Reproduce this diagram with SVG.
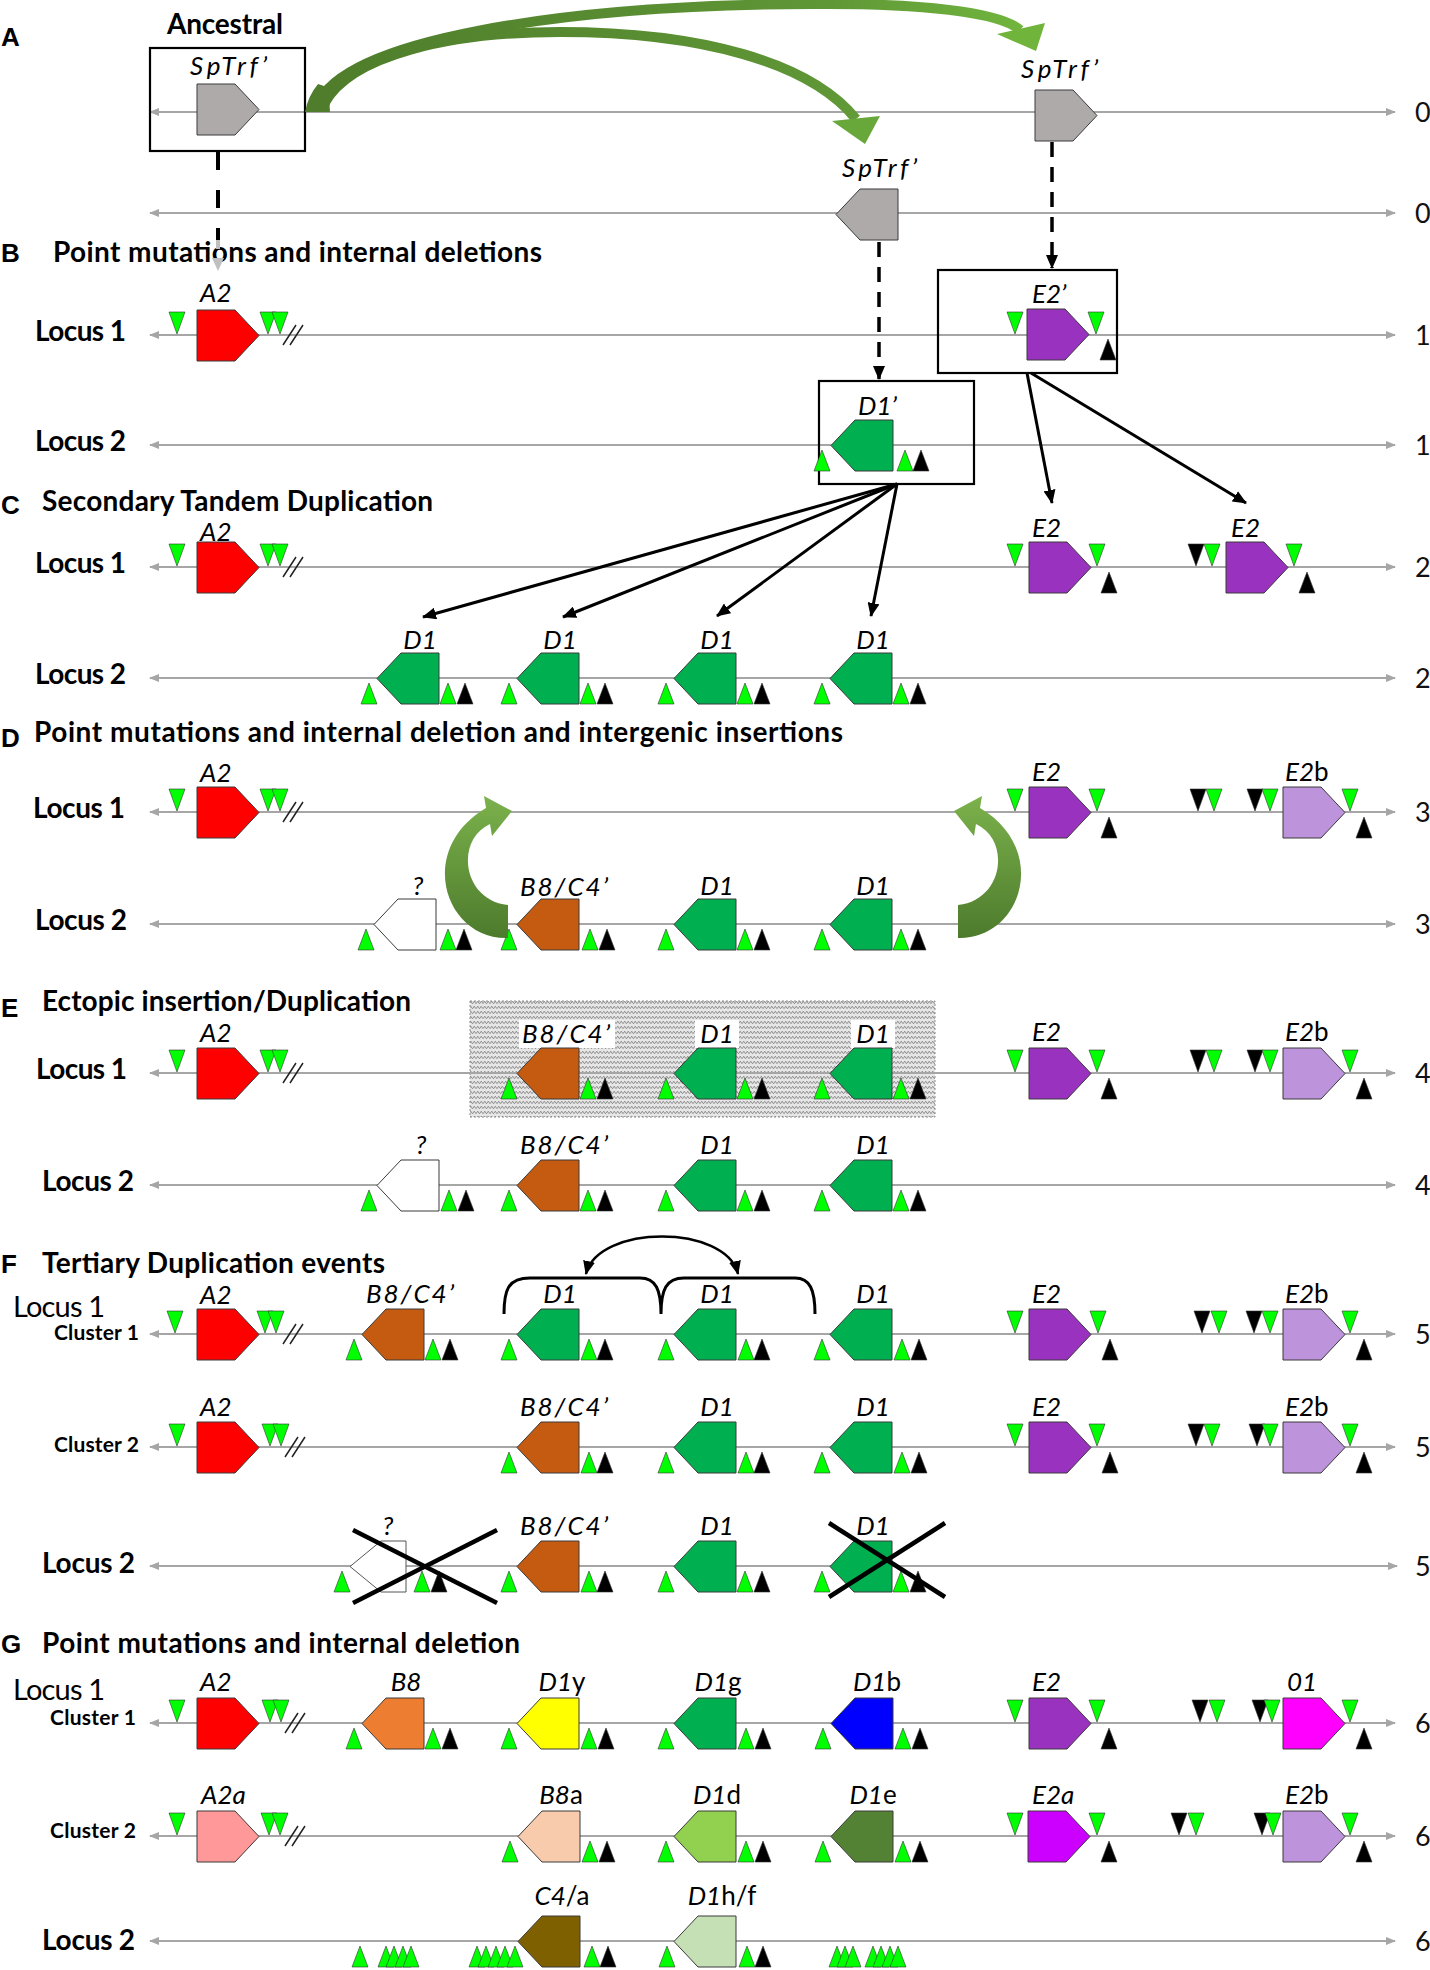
<svg xmlns="http://www.w3.org/2000/svg" width="1430" height="1970" viewBox="0 0 1430 1970">
<defs>
<style>
.ln{stroke:#a6a6a6;stroke-width:2.2;marker-start:url(#lg);marker-end:url(#lg)}
.num{font-family:Lato,"Open Sans",sans-serif;font-size:27px;fill:#111}
.lt{font-family:"Liberation Sans",Arial,sans-serif;font-weight:bold;font-size:26px}
.ttl{font-family:Lato,"Open Sans",sans-serif;font-weight:bold;font-size:28px}
.loc{font-family:Lato,"Open Sans",sans-serif;font-weight:bold;font-size:28px}
.locr{font-family:Lato,"Open Sans",sans-serif;font-size:29px}
.cl{font-family:Lato,"Open Sans",sans-serif;font-weight:bold;font-size:21px}
.lab{font-family:Lato,"Open Sans",sans-serif;font-style:italic;font-size:26px}
.m{text-anchor:middle}
.up{font-style:normal}
.g{fill:#00ff00}
.k{fill:#000}
.box{fill:none;stroke:#000;stroke-width:2.2}
.sl{stroke:#222;stroke-width:1.5;fill:none}
.con{stroke:#000;stroke-width:3;fill:none}
.dsh{stroke:#000;stroke-width:3.5;fill:none;stroke-dasharray:15 10}
.xm{stroke:#000;stroke-width:4.5}
</style>
<marker id="lg" viewBox="0 0 10 8" refX="9" refY="4" markerWidth="10" markerHeight="8" markerUnits="userSpaceOnUse" orient="auto-start-reverse"><path d="M0,0 L10,4 L0,8 z" fill="#a6a6a6"/></marker>
<marker id="ah" viewBox="0 0 14 12" refX="13" refY="6" markerWidth="14" markerHeight="12" markerUnits="userSpaceOnUse" orient="auto-start-reverse"><path d="M0,0 L14,6 L0,12 z" fill="#000"/></marker>
<polygon id="gr" points="0,0 38,0 62,25.5 38,51 0,51" stroke="#3a3a3a" stroke-width="1"/>
<polygon id="gl" points="0,25.5 24,0 62,0 62,51 24,51" stroke="#3a3a3a" stroke-width="1"/>
<polygon id="gls" points="0,25.5 31,0 56,0 56,51 31,51" stroke="#555" stroke-width="1"/>
<polygon id="tdn" points="0,0 16,0 8,22" stroke="#333" stroke-width="0.6"/>
<polygon id="tup" points="8,0 16,21 0,21" stroke="#333" stroke-width="0.6"/>
<pattern id="wave" width="7" height="5" patternUnits="userSpaceOnUse"><rect width="7" height="5" fill="#e6e6e6"/><path d="M0,3.8 L1.75,1.2 L3.5,3.8 L5.25,1.2 L7,3.8" fill="none" stroke="#858585" stroke-width="0.9"/></pattern>
<linearGradient id="gA" gradientUnits="userSpaceOnUse" x1="320" y1="0" x2="1040" y2="0"><stop offset="0" stop-color="#4f7d2b"/><stop offset="0.7" stop-color="#5f9636"/><stop offset="1" stop-color="#72b83e"/></linearGradient>
<linearGradient id="gD" gradientUnits="userSpaceOnUse" x1="0" y1="940" x2="0" y2="795"><stop offset="0" stop-color="#4c7a2c"/><stop offset="1" stop-color="#7cb24c"/></linearGradient>
</defs>
<rect width="1430" height="1970" fill="#fff"/>

<g id="panel-letters">
<text class="lt" x="1" y="46">A</text>
<text class="lt" x="1" y="262">B</text>
<text class="lt" x="1" y="514">C</text>
<text class="lt" x="1" y="747">D</text>
<text class="lt" x="1" y="1017">E</text>
<text class="lt" x="1" y="1273">F</text>
<text class="lt" x="1" y="1653">G</text>
</g>
<g id="titles">
<text class="ttl" x="167" y="34" textLength="116">Ancestral</text>
<text class="ttl" x="53" y="262" textLength="489">Point mutations and internal deletions</text>
<text class="ttl" x="42" y="511" textLength="391">Secondary Tandem Duplication</text>
<text class="ttl" x="34" y="742" textLength="809">Point mutations and internal deletion and intergenic insertions</text>
<text class="ttl" x="42" y="1011" textLength="369">Ectopic insertion/Duplication</text>
<text class="ttl" x="42" y="1273" textLength="343">Tertiary Duplication events</text>
<text class="ttl" x="42" y="1653" textLength="478">Point mutations and internal deletion</text>
</g>
<g id="row-labels">
<text class="loc" x="35" y="341" textLength="91">Locus 1</text>
<text class="loc" x="35" y="451" textLength="91">Locus 2</text>
<text class="loc" x="35" y="573" textLength="91">Locus 1</text>
<text class="loc" x="35" y="684" textLength="91">Locus 2</text>
<text class="loc" x="33" y="818" textLength="92">Locus 1</text>
<text class="loc" x="35" y="930" textLength="92">Locus 2</text>
<text class="loc" x="36" y="1079" textLength="91">Locus 1</text>
<text class="loc" x="42" y="1191" textLength="92">Locus 2</text>
<text class="locr" x="13" y="1317" textLength="92">Locus 1</text>
<text class="cl" x="54" y="1340" textLength="85">Cluster 1</text>
<text class="cl" x="54" y="1452" textLength="85">Cluster 2</text>
<text class="loc" x="42" y="1573" textLength="93">Locus 2</text>
<text class="locr" x="13" y="1700" textLength="92">Locus 1</text>
<text class="cl" x="50" y="1725" textLength="86">Cluster 1</text>
<text class="cl" x="50" y="1838" textLength="86">Cluster 2</text>
<text class="loc" x="42" y="1950" textLength="93">Locus 2</text>
</g>
<g id="row-numbers">
<text class="num" x="1415" y="122">0</text>
<text class="num" x="1415" y="223">0</text>
<text class="num" x="1415" y="345">1</text>
<text class="num" x="1415" y="455">1</text>
<text class="num" x="1415" y="577">2</text>
<text class="num" x="1415" y="688">2</text>
<text class="num" x="1415" y="822">3</text>
<text class="num" x="1415" y="934">3</text>
<text class="num" x="1415" y="1083">4</text>
<text class="num" x="1415" y="1195">4</text>
<text class="num" x="1415" y="1344">5</text>
<text class="num" x="1415" y="1457">5</text>
<text class="num" x="1415" y="1576">5</text>
<text class="num" x="1415" y="1733">6</text>
<text class="num" x="1415" y="1846">6</text>
<text class="num" x="1415" y="1951">6</text>
</g>

<g id="hatch-box">
<rect x="470" y="1001" width="465" height="116" fill="url(#wave)" stroke="#8c8c8c" stroke-width="1" stroke-dasharray="2 2"/>
<rect x="519" y="1020" width="96" height="28" fill="#fff"/>
<rect x="695" y="1020" width="44" height="28" fill="#fff"/>
<rect x="851" y="1020" width="44" height="28" fill="#fff"/>
</g>

<g id="chromosome-lines">
<line class="ln" x1="150" y1="112" x2="1395" y2="112"/>
<line class="ln" x1="150" y1="213" x2="1395" y2="213"/>
<line class="ln" x1="150" y1="335" x2="1395" y2="335"/>
<line class="ln" x1="150" y1="445" x2="1395" y2="445"/>
<line class="ln" x1="150" y1="567" x2="1395" y2="567"/>
<line class="ln" x1="150" y1="678" x2="1395" y2="678"/>
<line class="ln" x1="150" y1="812" x2="1395" y2="812"/>
<line class="ln" x1="150" y1="924" x2="1395" y2="924"/>
<line class="ln" x1="150" y1="1073" x2="1395" y2="1073"/>
<line class="ln" x1="150" y1="1185" x2="1395" y2="1185"/>
<line class="ln" x1="150" y1="1334" x2="1395" y2="1334"/>
<line class="ln" x1="150" y1="1447" x2="1395" y2="1447"/>
<line class="ln" x1="150" y1="1566" x2="1397" y2="1566"/>
<line class="ln" x1="150" y1="1723" x2="1395" y2="1723"/>
<line class="ln" x1="150" y1="1836" x2="1395" y2="1836"/>
<line class="ln" x1="150" y1="1941" x2="1395" y2="1941"/>
</g>

<!-- A -->
<g id="ancestral">
<rect class="box" x="150" y="48" width="155" height="103"/>
<use href="#gr" x="197" y="84" fill="#aeaaaa"/>
<text class="lab" x="190" y="75" textLength="77">SpTrf’</text>
</g>
<g id="sptrf-copy1">
<use href="#gr" x="1035" y="90" fill="#aeaaaa"/>
<text class="lab" x="1021" y="78" textLength="77">SpTrf’</text>
</g>
<g id="sptrf-copy2">
<use href="#gl" x="836" y="189" fill="#aeaaaa"/>
<text class="lab" x="842" y="177" textLength="75">SpTrf’</text>
</g>

<!-- B -->
<g id="b1-A2">
<use href="#tdn" class="g" x="169" y="312"/>
<use href="#gr" x="197" y="310" fill="#ff0000"/>
<use href="#tdn" class="g" x="260" y="312"/>
<use href="#tdn" class="g" x="272" y="312"/>
<path class="sl" d="M283,345 L296,325 M290,345 L303,325"/>
<text class="lab" x="200" y="302">A2</text>
</g>
<g id="b1-E2p">
<rect class="box" x="938" y="270" width="179" height="103"/>
<use href="#tdn" class="g" x="1007" y="312"/>
<use href="#gr" x="1027" y="309" fill="#9933bf"/>
<use href="#tdn" class="g" x="1088" y="312"/>
<use href="#tup" class="k" x="1100" y="339"/>
<text class="lab" x="1032" y="303">E2’</text>
</g>
<g id="b2-D1p">
<rect class="box" x="819" y="381" width="155" height="103"/>
<use href="#tup" class="g" x="814" y="450"/>
<use href="#gl" x="831" y="420" fill="#00b050"/>
<use href="#tup" class="g" x="897" y="450"/>
<use href="#tup" class="k" x="913" y="450"/>
<text class="lab" x="858" y="415">D1’</text>
</g>

<!-- C -->
<g id="c1-A2">
<use href="#tdn" class="g" x="169" y="544"/>
<use href="#gr" x="197" y="542" fill="#ff0000"/>
<use href="#tdn" class="g" x="260" y="544"/>
<use href="#tdn" class="g" x="272" y="544"/>
<path class="sl" d="M283,577 L296,557 M290,577 L303,557"/>
<text class="lab" x="200" y="541" font-size="24">A2</text>
</g>
<g id="c1-E2a">
<use href="#tdn" class="g" x="1007" y="544"/>
<use href="#gr" x="1029" y="542" fill="#9933bf"/>
<use href="#tdn" class="g" x="1089" y="544"/>
<use href="#tup" class="k" x="1101" y="572"/>
<text class="lab" x="1032" y="537">E2</text>
</g>
<g id="c1-E2b">
<use href="#tdn" class="k" x="1188" y="544"/>
<use href="#tdn" class="g" x="1204" y="544"/>
<use href="#gr" x="1226" y="542" fill="#9933bf"/>
<use href="#tdn" class="g" x="1286" y="544"/>
<use href="#tup" class="k" x="1299" y="572"/>
<text class="lab" x="1231" y="537">E2</text>
</g>
<g id="c2-D1a">
<use href="#tup" class="g" x="361" y="683"/>
<use href="#gl" x="377" y="653" fill="#00b050"/>
<use href="#tup" class="g" x="440" y="683"/>
<use href="#tup" class="k" x="457" y="683"/>
<text class="lab m" x="420" y="649">D1</text>
</g>
<g id="c2-D1b">
<use href="#tup" class="g" x="501" y="683"/>
<use href="#gl" x="517" y="653" fill="#00b050"/>
<use href="#tup" class="g" x="580" y="683"/>
<use href="#tup" class="k" x="597" y="683"/>
<text class="lab m" x="560" y="649">D1</text>
</g>
<g id="c2-D1c">
<use href="#tup" class="g" x="658" y="683"/>
<use href="#gl" x="674" y="653" fill="#00b050"/>
<use href="#tup" class="g" x="737" y="683"/>
<use href="#tup" class="k" x="754" y="683"/>
<text class="lab m" x="717" y="649">D1</text>
</g>
<g id="c2-D1d">
<use href="#tup" class="g" x="814" y="683"/>
<use href="#gl" x="830" y="653" fill="#00b050"/>
<use href="#tup" class="g" x="893" y="683"/>
<use href="#tup" class="k" x="910" y="683"/>
<text class="lab m" x="873" y="649">D1</text>
</g>

<!-- D -->
<g id="d1-A2">
<use href="#tdn" class="g" x="169" y="789"/>
<use href="#gr" x="197" y="787" fill="#ff0000"/>
<use href="#tdn" class="g" x="260" y="789"/>
<use href="#tdn" class="g" x="272" y="789"/>
<path class="sl" d="M283,822 L296,802 M290,822 L303,802"/>
<text class="lab" x="200" y="782">A2</text>
</g>
<g id="d1-E2">
<use href="#tdn" class="g" x="1007" y="789"/>
<use href="#gr" x="1029" y="787" fill="#9933bf"/>
<use href="#tdn" class="g" x="1089" y="789"/>
<use href="#tup" class="k" x="1101" y="817"/>
<text class="lab" x="1032" y="781">E2</text>
</g>
<g id="d1-E2b">
<use href="#tdn" class="k" x="1190" y="789"/>
<use href="#tdn" class="g" x="1206" y="789"/>
<use href="#tdn" class="k" x="1247" y="789"/>
<use href="#tdn" class="g" x="1262" y="789"/>
<use href="#gr" x="1283" y="787" fill="#bd93db"/>
<use href="#tdn" class="g" x="1342" y="789"/>
<use href="#tup" class="k" x="1356" y="817"/>
<text class="lab" x="1285" y="781">E2<tspan class="up">b</tspan></text>
</g>
<g id="d2-unknown">
<use href="#tup" class="g" x="358" y="929"/>
<use href="#gl" x="374" y="899" fill="#ffffff"/>
<use href="#tup" class="g" x="440" y="929"/>
<use href="#tup" class="k" x="456" y="929"/>
<text class="lab m" x="418" y="895">?</text>
</g>
<g id="d2-B8C4">
<use href="#tup" class="g" x="501" y="929"/>
<use href="#gl" x="517" y="899" fill="#c55a11"/>
<use href="#tup" class="g" x="582" y="929"/>
<use href="#tup" class="k" x="599" y="929"/>
<text class="lab m" x="564" y="896" textLength="88">B8/C4’</text>
</g>
<g id="d2-D1a">
<use href="#tup" class="g" x="658" y="929"/>
<use href="#gl" x="674" y="899" fill="#00b050"/>
<use href="#tup" class="g" x="737" y="929"/>
<use href="#tup" class="k" x="754" y="929"/>
<text class="lab m" x="717" y="895">D1</text>
</g>
<g id="d2-D1b">
<use href="#tup" class="g" x="814" y="929"/>
<use href="#gl" x="830" y="899" fill="#00b050"/>
<use href="#tup" class="g" x="893" y="929"/>
<use href="#tup" class="k" x="910" y="929"/>
<text class="lab m" x="873" y="895">D1</text>
</g>

<!-- E -->
<g id="e1-A2">
<use href="#tdn" class="g" x="169" y="1050"/>
<use href="#gr" x="197" y="1048" fill="#ff0000"/>
<use href="#tdn" class="g" x="260" y="1050"/>
<use href="#tdn" class="g" x="272" y="1050"/>
<path class="sl" d="M283,1083 L296,1063 M290,1083 L303,1063"/>
<text class="lab" x="200" y="1042">A2</text>
</g>
<g id="e1-B8C4">
<use href="#tup" class="g" x="501" y="1078"/>
<use href="#gl" x="517" y="1048" fill="#c55a11"/>
<use href="#tup" class="g" x="580" y="1078"/>
<use href="#tup" class="k" x="597" y="1078"/>
<text class="lab m" x="566" y="1043" textLength="88">B8/C4’</text>
</g>
<g id="e1-D1a">
<use href="#tup" class="g" x="658" y="1078"/>
<use href="#gl" x="674" y="1048" fill="#00b050"/>
<use href="#tup" class="g" x="737" y="1078"/>
<use href="#tup" class="k" x="754" y="1078"/>
<text class="lab m" x="717" y="1043">D1</text>
</g>
<g id="e1-D1b">
<use href="#tup" class="g" x="814" y="1078"/>
<use href="#gl" x="830" y="1048" fill="#00b050"/>
<use href="#tup" class="g" x="893" y="1078"/>
<use href="#tup" class="k" x="910" y="1078"/>
<text class="lab m" x="873" y="1043">D1</text>
</g>
<g id="e1-E2">
<use href="#tdn" class="g" x="1007" y="1050"/>
<use href="#gr" x="1029" y="1048" fill="#9933bf"/>
<use href="#tdn" class="g" x="1089" y="1050"/>
<use href="#tup" class="k" x="1101" y="1078"/>
<text class="lab" x="1032" y="1041">E2</text>
</g>
<g id="e1-E2b">
<use href="#tdn" class="k" x="1190" y="1050"/>
<use href="#tdn" class="g" x="1206" y="1050"/>
<use href="#tdn" class="k" x="1247" y="1050"/>
<use href="#tdn" class="g" x="1262" y="1050"/>
<use href="#gr" x="1283" y="1048" fill="#bd93db"/>
<use href="#tdn" class="g" x="1342" y="1050"/>
<use href="#tup" class="k" x="1356" y="1078"/>
<text class="lab" x="1285" y="1041">E2<tspan class="up">b</tspan></text>
</g>
<g id="e2-unknown">
<use href="#tup" class="g" x="361" y="1190"/>
<use href="#gl" x="377" y="1160" fill="#ffffff"/>
<use href="#tup" class="g" x="441" y="1190"/>
<use href="#tup" class="k" x="458" y="1190"/>
<text class="lab m" x="421" y="1154">?</text>
</g>
<g id="e2-B8C4">
<use href="#tup" class="g" x="501" y="1190"/>
<use href="#gl" x="517" y="1160" fill="#c55a11"/>
<use href="#tup" class="g" x="580" y="1190"/>
<use href="#tup" class="k" x="597" y="1190"/>
<text class="lab m" x="564" y="1154" textLength="88">B8/C4’</text>
</g>
<g id="e2-D1a">
<use href="#tup" class="g" x="658" y="1190"/>
<use href="#gl" x="674" y="1160" fill="#00b050"/>
<use href="#tup" class="g" x="737" y="1190"/>
<use href="#tup" class="k" x="754" y="1190"/>
<text class="lab m" x="717" y="1154">D1</text>
</g>
<g id="e2-D1b">
<use href="#tup" class="g" x="814" y="1190"/>
<use href="#gl" x="830" y="1160" fill="#00b050"/>
<use href="#tup" class="g" x="893" y="1190"/>
<use href="#tup" class="k" x="910" y="1190"/>
<text class="lab m" x="873" y="1154">D1</text>
</g>

<!-- F -->
<g id="f1-A2">
<use href="#tdn" class="g" x="167" y="1311"/>
<use href="#gr" x="197" y="1309" fill="#ff0000"/>
<use href="#tdn" class="g" x="257" y="1311"/>
<use href="#tdn" class="g" x="268" y="1311"/>
<path class="sl" d="M283,1344 L296,1324 M290,1344 L303,1324"/>
<text class="lab" x="200" y="1304">A2</text>
</g>
<g id="f1-B8C4">
<use href="#tup" class="g" x="346" y="1339"/>
<use href="#gl" x="362" y="1309" fill="#c55a11"/>
<use href="#tup" class="g" x="425" y="1339"/>
<use href="#tup" class="k" x="442" y="1339"/>
<text class="lab m" x="410" y="1303" textLength="88">B8/C4’</text>
</g>
<g id="f1-D1a">
<use href="#tup" class="g" x="501" y="1339"/>
<use href="#gl" x="517" y="1309" fill="#00b050"/>
<use href="#tup" class="g" x="581" y="1339"/>
<use href="#tup" class="k" x="597" y="1339"/>
<text class="lab m" x="560" y="1303">D1</text>
</g>
<g id="f1-D1b">
<use href="#tup" class="g" x="658" y="1339"/>
<use href="#gl" x="674" y="1309" fill="#00b050"/>
<use href="#tup" class="g" x="738" y="1339"/>
<use href="#tup" class="k" x="754" y="1339"/>
<text class="lab m" x="717" y="1303">D1</text>
</g>
<g id="f1-D1c">
<use href="#tup" class="g" x="814" y="1339"/>
<use href="#gl" x="830" y="1309" fill="#00b050"/>
<use href="#tup" class="g" x="894" y="1339"/>
<use href="#tup" class="k" x="911" y="1339"/>
<text class="lab m" x="873" y="1303">D1</text>
</g>
<g id="f1-E2">
<use href="#tdn" class="g" x="1007" y="1311"/>
<use href="#gr" x="1029" y="1309" fill="#9933bf"/>
<use href="#tdn" class="g" x="1090" y="1311"/>
<use href="#tup" class="k" x="1102" y="1339"/>
<text class="lab" x="1032" y="1303">E2</text>
</g>
<g id="f1-E2b">
<use href="#tdn" class="k" x="1194" y="1311"/>
<use href="#tdn" class="g" x="1211" y="1311"/>
<use href="#tdn" class="k" x="1246" y="1311"/>
<use href="#tdn" class="g" x="1262" y="1311"/>
<use href="#gr" x="1283" y="1309" fill="#bd93db"/>
<use href="#tdn" class="g" x="1342" y="1311"/>
<use href="#tup" class="k" x="1356" y="1339"/>
<text class="lab" x="1285" y="1303">E2<tspan class="up">b</tspan></text>
</g>
<g id="f2-A2">
<use href="#tdn" class="g" x="169" y="1424"/>
<use href="#gr" x="197" y="1422" fill="#ff0000"/>
<use href="#tdn" class="g" x="262" y="1424"/>
<use href="#tdn" class="g" x="273" y="1424"/>
<path class="sl" d="M285,1457 L298,1437 M292,1457 L305,1437"/>
<text class="lab" x="200" y="1416">A2</text>
</g>
<g id="f2-B8C4">
<use href="#tup" class="g" x="501" y="1452"/>
<use href="#gl" x="517" y="1422" fill="#c55a11"/>
<use href="#tup" class="g" x="581" y="1452"/>
<use href="#tup" class="k" x="597" y="1452"/>
<text class="lab m" x="564" y="1416" textLength="88">B8/C4’</text>
</g>
<g id="f2-D1a">
<use href="#tup" class="g" x="658" y="1452"/>
<use href="#gl" x="674" y="1422" fill="#00b050"/>
<use href="#tup" class="g" x="738" y="1452"/>
<use href="#tup" class="k" x="754" y="1452"/>
<text class="lab m" x="717" y="1416">D1</text>
</g>
<g id="f2-D1b">
<use href="#tup" class="g" x="814" y="1452"/>
<use href="#gl" x="830" y="1422" fill="#00b050"/>
<use href="#tup" class="g" x="894" y="1452"/>
<use href="#tup" class="k" x="911" y="1452"/>
<text class="lab m" x="873" y="1416">D1</text>
</g>
<g id="f2-E2">
<use href="#tdn" class="g" x="1007" y="1424"/>
<use href="#gr" x="1029" y="1422" fill="#9933bf"/>
<use href="#tdn" class="g" x="1089" y="1424"/>
<use href="#tup" class="k" x="1102" y="1452"/>
<text class="lab" x="1032" y="1416">E2</text>
</g>
<g id="f2-E2b">
<use href="#tdn" class="k" x="1188" y="1424"/>
<use href="#tdn" class="g" x="1204" y="1424"/>
<use href="#tdn" class="k" x="1249" y="1424"/>
<use href="#tdn" class="g" x="1262" y="1424"/>
<use href="#gr" x="1283" y="1422" fill="#bd93db"/>
<use href="#tdn" class="g" x="1342" y="1424"/>
<use href="#tup" class="k" x="1356" y="1452"/>
<text class="lab" x="1285" y="1416">E2<tspan class="up">b</tspan></text>
</g>
<g id="f3-unknown">
<use href="#tup" class="g" x="334" y="1571"/>
<use href="#gls" x="350" y="1541" fill="#ffffff"/>
<use href="#tup" class="g" x="414" y="1571"/>
<use href="#tup" class="k" x="431" y="1571"/>
<text class="lab m" x="388" y="1535">?</text>
</g>
<g id="f3-B8C4">
<use href="#tup" class="g" x="501" y="1571"/>
<use href="#gl" x="517" y="1541" fill="#c55a11"/>
<use href="#tup" class="g" x="581" y="1571"/>
<use href="#tup" class="k" x="597" y="1571"/>
<text class="lab m" x="564" y="1535" textLength="88">B8/C4’</text>
</g>
<g id="f3-D1a">
<use href="#tup" class="g" x="658" y="1571"/>
<use href="#gl" x="674" y="1541" fill="#00b050"/>
<use href="#tup" class="g" x="737" y="1571"/>
<use href="#tup" class="k" x="754" y="1571"/>
<text class="lab m" x="717" y="1535">D1</text>
</g>
<g id="f3-D1b">
<use href="#tup" class="g" x="814" y="1571"/>
<use href="#gl" x="830" y="1541" fill="#00b050"/>
<use href="#tup" class="g" x="893" y="1571"/>
<use href="#tup" class="k" x="910" y="1571"/>
<text class="lab m" x="873" y="1535">D1</text>
</g>

<!-- G -->
<g id="g1-A2">
<use href="#tdn" class="g" x="169" y="1700"/>
<use href="#gr" x="197" y="1698" fill="#ff0000"/>
<use href="#tdn" class="g" x="262" y="1700"/>
<use href="#tdn" class="g" x="273" y="1700"/>
<path class="sl" d="M285,1733 L298,1713 M292,1733 L305,1713"/>
<text class="lab" x="200" y="1691">A2</text>
</g>
<g id="g1-B8">
<use href="#tup" class="g" x="346" y="1728"/>
<use href="#gl" x="362" y="1698" fill="#ed7d31"/>
<use href="#tup" class="g" x="425" y="1728"/>
<use href="#tup" class="k" x="442" y="1728"/>
<text class="lab m" x="406" y="1691">B8</text>
</g>
<g id="g1-D1y">
<use href="#tup" class="g" x="501" y="1728"/>
<use href="#gl" x="517" y="1698" fill="#ffff00"/>
<use href="#tup" class="g" x="581" y="1728"/>
<use href="#tup" class="k" x="598" y="1728"/>
<text class="lab m" x="562" y="1691">D1<tspan class="up">y</tspan></text>
</g>
<g id="g1-D1g">
<use href="#tup" class="g" x="658" y="1728"/>
<use href="#gl" x="674" y="1698" fill="#00b050"/>
<use href="#tup" class="g" x="738" y="1728"/>
<use href="#tup" class="k" x="755" y="1728"/>
<text class="lab m" x="718" y="1691">D1<tspan class="up">g</tspan></text>
</g>
<g id="g1-D1b">
<use href="#tup" class="g" x="815" y="1728"/>
<use href="#gl" x="831" y="1698" fill="#0000ff"/>
<use href="#tup" class="g" x="895" y="1728"/>
<use href="#tup" class="k" x="912" y="1728"/>
<text class="lab m" x="877" y="1691">D1<tspan class="up">b</tspan></text>
</g>
<g id="g1-E2">
<use href="#tdn" class="g" x="1007" y="1700"/>
<use href="#gr" x="1029" y="1698" fill="#9933bf"/>
<use href="#tdn" class="g" x="1089" y="1700"/>
<use href="#tup" class="k" x="1101" y="1728"/>
<text class="lab" x="1032" y="1691">E2</text>
</g>
<g id="g1-01">
<use href="#tdn" class="k" x="1192" y="1700"/>
<use href="#tdn" class="g" x="1209" y="1700"/>
<use href="#tdn" class="k" x="1252" y="1700"/>
<use href="#tdn" class="g" x="1264" y="1700"/>
<use href="#gr" x="1283" y="1698" fill="#ff00ff"/>
<use href="#tdn" class="g" x="1342" y="1700"/>
<use href="#tup" class="k" x="1356" y="1728"/>
<text class="lab" x="1287" y="1691">01</text>
</g>
<g id="g2-A2a">
<use href="#tdn" class="g" x="169" y="1813"/>
<use href="#gr" x="197" y="1811" fill="#ff9999"/>
<use href="#tdn" class="g" x="261" y="1813"/>
<use href="#tdn" class="g" x="272" y="1813"/>
<path class="sl" d="M285,1846 L298,1826 M292,1846 L305,1826"/>
<text class="lab" x="201" y="1804">A2a</text>
</g>
<g id="g2-B8a">
<use href="#tup" class="g" x="502" y="1841"/>
<use href="#gl" x="518" y="1811" fill="#f8cbad"/>
<use href="#tup" class="g" x="582" y="1841"/>
<use href="#tup" class="k" x="599" y="1841"/>
<text class="lab m" x="561" y="1804">B8<tspan class="up">a</tspan></text>
</g>
<g id="g2-D1d">
<use href="#tup" class="g" x="658" y="1841"/>
<use href="#gl" x="674" y="1811" fill="#92d050"/>
<use href="#tup" class="g" x="738" y="1841"/>
<use href="#tup" class="k" x="755" y="1841"/>
<text class="lab m" x="717" y="1804">D1<tspan class="up">d</tspan></text>
</g>
<g id="g2-D1e">
<use href="#tup" class="g" x="815" y="1841"/>
<use href="#gl" x="831" y="1811" fill="#548235"/>
<use href="#tup" class="g" x="895" y="1841"/>
<use href="#tup" class="k" x="912" y="1841"/>
<text class="lab m" x="873" y="1804">D1<tspan class="up">e</tspan></text>
</g>
<g id="g2-E2a">
<use href="#tdn" class="g" x="1007" y="1813"/>
<use href="#gr" x="1028" y="1811" fill="#cc00ff"/>
<use href="#tdn" class="g" x="1089" y="1813"/>
<use href="#tup" class="k" x="1101" y="1841"/>
<text class="lab" x="1032" y="1804">E2a</text>
</g>
<g id="g2-E2b">
<use href="#tdn" class="k" x="1171" y="1813"/>
<use href="#tdn" class="g" x="1188" y="1813"/>
<use href="#tdn" class="k" x="1254" y="1813"/>
<use href="#tdn" class="g" x="1265" y="1813"/>
<use href="#gr" x="1283" y="1811" fill="#bd93db"/>
<use href="#tdn" class="g" x="1342" y="1813"/>
<use href="#tup" class="k" x="1356" y="1841"/>
<text class="lab" x="1285" y="1804">E2<tspan class="up">b</tspan></text>
</g>
<g id="g3-C4a">
<use href="#gl" x="518" y="1916" fill="#7f6000"/>
<use href="#tup" class="g" x="352" y="1946"/>
<use href="#tup" class="g" x="378" y="1946"/>
<use href="#tup" class="g" x="386" y="1946"/>
<use href="#tup" class="g" x="395" y="1946"/>
<use href="#tup" class="g" x="403" y="1946"/>
<use href="#tup" class="g" x="469" y="1946"/>
<use href="#tup" class="g" x="478" y="1946"/>
<use href="#tup" class="g" x="488" y="1946"/>
<use href="#tup" class="g" x="497" y="1946"/>
<use href="#tup" class="g" x="507" y="1946"/>
<use href="#tup" class="g" x="584" y="1946"/>
<use href="#tup" class="k" x="600" y="1946"/>
<text class="lab m" x="562" y="1905">C4<tspan class="up">/a</tspan></text>
</g>
<g id="g3-D1hf">
<use href="#tup" class="g" x="659" y="1946"/>
<use href="#gl" x="674" y="1916" fill="#c5e0b4"/>
<use href="#tup" class="g" x="739" y="1946"/>
<use href="#tup" class="k" x="755" y="1946"/>
<use href="#tup" class="g" x="829" y="1946"/>
<use href="#tup" class="g" x="837" y="1946"/>
<use href="#tup" class="g" x="845" y="1946"/>
<use href="#tup" class="g" x="865" y="1946"/>
<use href="#tup" class="g" x="873" y="1946"/>
<use href="#tup" class="g" x="882" y="1946"/>
<use href="#tup" class="g" x="890" y="1946"/>
<text class="lab m" x="722" y="1905">D1<tspan class="up">h/f</tspan></text>
</g>

<g id="connectors">
<!-- A: green transposition arrows -->
<path d="M305,112 Q308,96 318,84 L336,90 Q328,100 330,112 Z" fill="#4f7d2b"/>
<path d="M318,104 C345,40 560,5 810,4 C920,3 1000,12 1020,30" fill="none" stroke="url(#gA)" stroke-width="10"/>
<polygon points="997,34 1045,23 1036,51" fill="#70b43c"/>
<path d="M324,104 C350,55 450,32 560,32 C700,32 810,62 856,119" fill="none" stroke="url(#gA)" stroke-width="10"/>
<polygon points="832,121 880,116 865,144" fill="#68a83a"/>
<!-- dashed descent arrows -->
<path d="M218,152 V240" stroke="#000" stroke-width="4" stroke-dasharray="18 20" fill="none"/>
<path d="M218,240 V249" stroke="#c0c0c0" stroke-width="4" fill="none"/>
<polygon points="212,258 224,258 218,271" fill="#c0c0c0"/>
<path class="dsh" d="M1052,142 V268" marker-end="url(#ah)"/>
<path class="dsh" d="M879,242 V379" marker-end="url(#ah)"/>
<!-- tandem duplication arrows -->
<path class="con" d="M1027,373 L1052,503" marker-end="url(#ah)"/>
<path class="con" d="M1031,373 L1246,503" marker-end="url(#ah)"/>
<path class="con" d="M897,484 L423,617" marker-end="url(#ah)"/>
<path class="con" d="M897,484 L563,617" marker-end="url(#ah)"/>
<path class="con" d="M897,484 L717,616" marker-end="url(#ah)"/>
<path class="con" d="M897,484 L871,616" marker-end="url(#ah)"/>
<!-- D: intergenic insertion arrows -->
<path d="M508,938 C445,940 415,850 486,808 L484,796 L512,811 L492,836 L490,824 C455,840 462,900 508,905 Z" fill="url(#gD)"/>
<path d="M958,938 C1021,940 1051,850 980,808 L982,796 L954,811 L974,836 L976,824 C1011,840 1004,900 958,905 Z" fill="url(#gD)"/>
<!-- F: bracket and duplication arc -->
<path class="con" d="M504,1314 C504,1290 508,1278 530,1278 L640,1278 C656,1278 661,1290 661,1314 C661,1290 666,1278 684,1278 L795,1278 C810,1278 815,1290 815,1314"/>
<path d="M586,1274 C598,1224 726,1224 738,1274" fill="none" stroke="#000" stroke-width="2.5" marker-start="url(#ah)" marker-end="url(#ah)"/>
<!-- F: deletion crosses -->
<line class="xm" x1="353" y1="1530" x2="497" y2="1603"/>
<line class="xm" x1="497" y1="1530" x2="353" y2="1603"/>
<line class="xm" x1="829" y1="1523" x2="945" y2="1597"/>
<line class="xm" x1="945" y1="1523" x2="829" y2="1597"/>
</g>
</svg>
